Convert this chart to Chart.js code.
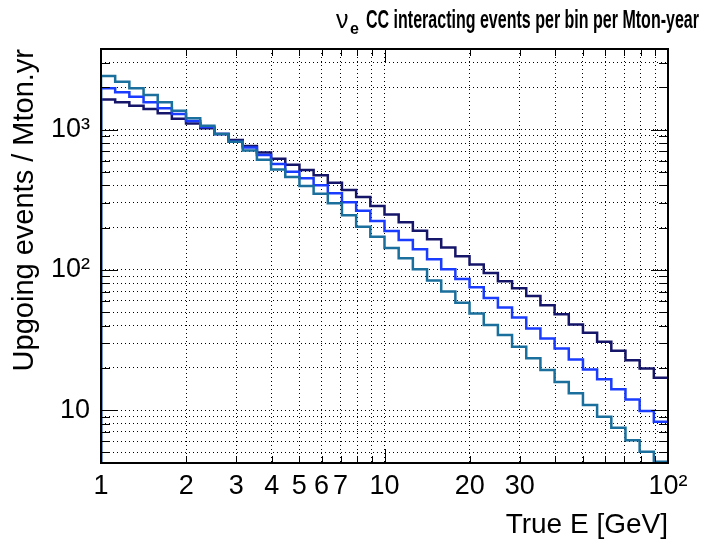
<!DOCTYPE html>
<html>
<head>
<meta charset="utf-8">
<title>nu_e CC interacting events per bin per Mton-year</title>
<script src="https://cdn.jsdelivr.net/npm/chart.js@4.4.1/dist/chart.umd.min.js"></script>
<style>
  html, body { margin: 0; padding: 0; background: #fff; }
  canvas { display: block; }
</style>
</head>
<body>
<canvas id="nue-chart" width="704" height="542"></canvas>
<script>
// bin edges in GeV (20 log bins per decade, 1 -> 100)
const binEdges = [
  1.000, 1.122, 1.259, 1.413, 1.585, 1.778, 1.995, 2.239, 2.512, 2.818,
  3.162, 3.548, 3.981, 4.467, 5.012, 5.623, 6.310, 7.079, 7.943, 8.913,
  10.00, 11.22, 12.59, 14.13, 15.85, 17.78, 19.95, 22.39, 25.12, 28.18,
  31.62, 35.48, 39.81, 44.67, 50.12, 56.23, 63.10, 70.79, 79.43, 89.13,
  100.0
]

// upgoing events / Mton.yr, one value per bin
const navyCounts = [
  1640, 1565, 1480, 1400, 1305, 1195, 1105, 1020, 930, 842,
  763, 686, 618, 562, 514, 472, 418, 371, 330, 285,
  248, 218, 190, 165, 144, 125, 109, 95, 83, 74,
  65, 56, 48.3, 40.8, 35.6, 30.7, 26.5, 22.7, 19.8, 17.0
]
const blueCounts = [
  1967, 1842, 1713, 1563, 1416, 1290, 1150, 1042, 929, 819,
  746, 658, 567, 500, 449, 401, 351, 303, 264, 223,
  189, 163, 140, 119, 101, 86, 75, 63, 54, 45.8,
  38.2, 32.4, 27.5, 23.0, 19.5, 16.6, 14.1, 11.9, 9.84, 8.26
]
const tealCounts = [
  2408, 2192, 1967, 1762, 1563, 1362, 1202, 1064, 929, 819,
  710, 610, 520, 458, 396, 348, 298, 245, 203, 172,
  143, 121, 101, 84, 70, 58.2, 48.9, 40.4, 34.3, 28.3,
  23.4, 19.3, 15.9, 13.2, 10.9, 8.96, 7.48, 6.1, 5.05, 4.28
]

// axis ranges
const xMin = 1
const xMax = 100
const yMin = 4.2
const yMax = 3750

// grid / tick positions and labels
const xGrid = [2, 3, 4, 5, 6, 7, 8, 9, 10, 20, 30, 40, 50, 60, 70, 80, 90]
const xMajor = [10]
const xLabels = { 1: '1', 2: '2', 3: '3', 4: '4', 5: '5', 6: '6', 7: '7', 10: '10', 20: '20', 30: '30', 100: '10²' }
const yGrid = [
  5, 6, 7, 8, 9, 10, 20, 30, 40, 50, 60, 70, 80, 90,
  100, 200, 300, 400, 500, 600, 700, 800, 900, 1000, 2000, 3000
]
const yMajor = [10, 100, 1000]
const yLabels = { 10: '10', 100: '10²', 1000: '10³' }

const FONT = '"Liberation Sans", Arial, Helvetica, sans-serif'

// turn per-bin values into stepped points, starting from the axis floor like ROOT does
function histPoints(counts) {
  const pts = [{ x: binEdges[0], y: yMin }]
  counts.forEach((v, i) => pts.push({ x: binEdges[i], y: v }))
  pts.push({ x: binEdges[binEdges.length - 1], y: counts[counts.length - 1] })
  return pts
}

function histDataset(label, counts, color) {
  return {
    label,
    data: histPoints(counts),
    borderColor: color,
    borderWidth: 2.5,
    stepped: true,
    fill: false,
    pointRadius: 0,
    tension: 0,
  }
}

/* ---- frame, inner tick marks and title ---- */
const rootFrame = {
  id: 'rootFrame',
  afterDatasetsDraw(chart) {
    const { ctx, chartArea: a, scales } = chart
    ctx.save()
    ctx.strokeStyle = '#000'
    ctx.lineWidth = 1
    ctx.beginPath()
    yGrid.forEach(v => {
      const y = Math.round(scales.y.getPixelForValue(v)) + 0.5
      const len = yMajor.includes(v) ? 17 : 9
      ctx.moveTo(a.left, y); ctx.lineTo(a.left + len, y)
      ctx.moveTo(a.right, y); ctx.lineTo(a.right - len, y)
    })
    xGrid.forEach(v => {
      const x = Math.round(scales.x.getPixelForValue(v)) + 0.5
      const len = xMajor.includes(v) ? 14 : 7
      ctx.moveTo(x, a.bottom); ctx.lineTo(x, a.bottom - len)
      ctx.moveTo(x, a.top); ctx.lineTo(x, a.top + len)
    })
    ctx.stroke()
    ctx.lineWidth = 2
    ctx.strokeRect(a.left, a.top, a.right - a.left, a.bottom - a.top)
    ctx.restore()
  },
  afterDraw(chart) {
    const ctx = chart.ctx
    ctx.save()
    ctx.fillStyle = '#000'
    ctx.textBaseline = 'alphabetic'
    ctx.textAlign = 'left'
    ctx.font = `25px ${FONT}`
    ctx.fillText('ν', 336, 28)
    ctx.font = `bold 16px ${FONT}`
    ctx.fillText('e', 350, 34)
    ctx.font = `bold 25px "Liberation Sans Narrow", ${FONT}`
    const text = 'CC interacting events per bin per Mton-year'
    const w = ctx.measureText(text).width
    const x0 = 366
    const x1 = 699
    ctx.translate(x0, 28)
    ctx.scale((x1 - x0) / w, 1)
    ctx.fillText(text, 0, 0)
    ctx.restore()
  }
}

const ctx = document.getElementById('nue-chart')

new Chart(ctx, {
  type: 'line',
  data: {
    datasets: [
      histDataset('teal', tealCounts, '#1a6f9c'),
      histDataset('blue', blueCounts, '#1a3cff'),
      histDataset('navy', navyCounts, '#15156a'),
    ]
  },
  options: {
    responsive: false,
    animation: false,
    layout: { padding: { top: 49, right: 36, left: 0, bottom: 0 } },
    plugins: {
      legend: { display: false },
      tooltip: { enabled: false },
      title: { display: false },
    },
    scales: {
      x: {
        type: 'logarithmic',
        min: xMin,
        max: xMax,
        afterBuildTicks: (s) => { s.ticks = [xMin, ...xGrid, xMax].map(v => ({ value: v })) },
        afterFit: (s) => { s.height = 79 },
        grid: { color: (c) => (c.tick && (c.tick.value === xMin || c.tick.value === xMax)) ? 'rgba(0,0,0,0)' : '#000', lineWidth: 1, drawTicks: false },
        border: { display: false, dash: [1, 3] },
        ticks: {
          autoSkip: false,
          maxRotation: 0,
          padding: 7,
          color: '#000',
          font: { family: FONT, size: 27 },
          callback: (v) => xLabels[v] || '',
        },
        title: {
          display: true,
          text: 'True E [GeV]',
          align: 'end',
          color: '#000',
          font: { family: FONT, size: 28 },
          padding: { top: 0, bottom: 0 },
        }
      },
      y: {
        type: 'logarithmic',
        min: yMin,
        max: yMax,
        afterBuildTicks: (s) => { s.ticks = yGrid.map(v => ({ value: v })) },
        afterFit: (s) => { s.width = 101 },
        grid: { color: '#000', lineWidth: 1, drawTicks: false },
        border: { display: false, dash: [1, 3] },
        ticks: {
          autoSkip: false,
          padding: 11,
          color: '#000',
          font: { family: FONT, size: 27 },
          callback: (v) => yLabels[v] || '',
        },
        title: {
          display: true,
          text: 'Upgoing events / Mton.yr',
          align: 'end',
          color: '#000',
          font: { family: FONT, size: 29 },
          padding: { top: 8, bottom: 0 },
        }
      }
    }
  },
  plugins: [rootFrame]
})
</script>
</body>
</html>
